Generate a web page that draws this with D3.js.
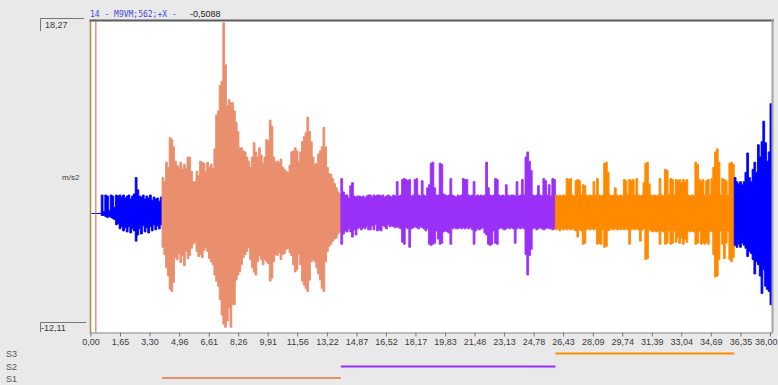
<!DOCTYPE html>
<html>
<head>
<meta charset="utf-8">
<script src="https://cdn.jsdelivr.net/npm/d3@7"></script>
<style>
  html, body { margin: 0; padding: 0; background: #e9e9e9; }
  svg { display: block; font-family: "Liberation Sans", Arial, sans-serif; }
</style>
</head>
<body>
<svg id="chart" width="778" height="385"></svg>
<script>
// ---- Channel header ------------------------------------------------------
const channelTitle = "14 - M9VM;562;+X -";
const cursorValue = "-0,5088";
const cursorTime = 0.3;          // s
const unitLabel = "m/s2";
const yMax = 18.27, yMin = -12.11;
const yMaxLabel = "18,27", yMinLabel = "-12,11";

// ---- Time axis -----------------------------------------------------------
const tEnd = 38.0;
const tickLabels = ["0,00","1,65","3,30","4,96","6,61","8,26","9,91","11,56","13,22","14,87",
  "16,52","18,17","19,83","21,48","23,13","24,78","26,43","28,09","29,74","31,39",
  "33,04","34,69","36,35","38,00"];
const tickValues = tickLabels.map(s => +s.replace(",", "."));

// ---- Waveform: peak envelope every 0.1 s (upper / lower, m/s2) -----------
const step = 0.1;

// pre-event noise, 0.0 – 3.9 s
const preStart = 0.0;
const preHi = [-0.5,-0.5,-0.5,-0.5,-0.5,-0.5, 1.3,-0.3,1.3,1.2,-0.2,1.3,1.2,0.1,1.3,
  1.2,1.3,1.1,1.3,1.0, 1.2,1.3,0.9,1.2,1.4, 3.0,1.8,1.2,1.1,1.3, 0.9,1.2,1.0,1.3,0.8,
  1.1,0.9,1.0,0.7,1.1];
const preLo = [-0.5,-0.5,-0.5,-0.5,-0.5,-0.5, -0.7,-0.7,-0.8,-0.9,-0.8,-0.9,-1.0,-1.1,-1.6,
  -1.5,-2.0,-1.8,-2.2,-1.9, -2.3,-1.8,-2.4,-2.0,-2.2, -3.2,-2.6,-2.0,-2.5,-1.7,
  -2.3,-1.9,-2.4,-1.8,-2.2, -1.6,-2.1,-1.7,-2.0,-1.6];

// S1, 4.0 – 13.9 s
const s1Start = 4.0;
const s1Hi = [3.0,2.6,4.5,4.0,6.9,6.7,6.0,4.6,4.2,4.0,
  4.5,3.8,4.3,3.9,5.0,5.0,3.6,2.6,2.6,3.6,
  3.2,4.6,4.5,4.4,3.6,4.5,4.0,4.3,3.9,5.8,
  9.1,9.5,12.0,12.4,18.1,14.0,10.0,10.6,10.3,10.3,
  9.5,8.4,7.5,5.9,5.9,5.6,5.5,5.0,4.6,4.0,
  5.0,6.4,5.5,5.0,5.9,5.2,4.4,5.0,6.7,6.6,
  8.6,8.0,5.0,4.5,4.6,4.5,4.8,4.0,3.8,3.6,
  3.5,4.2,5.5,5.6,5.9,5.6,4.6,5.5,6.5,7.0,
  7.4,8.9,7.5,6.5,5.0,4.3,4.4,5.3,5.6,6.0,
  7.9,6.0,4.0,3.4,3.3,2.9,2.4,2.0,1.6,1.4];
const s1Lo = [-3.8,-4.5,-5.8,-6.6,-7.9,-8.1,-7.2,-4.8,-5.0,-4.4,
  -5.3,-4.6,-5.6,-4.2,-4.9,-4.6,-3.9,-3.5,-3.3,-4.2,
  -4.7,-4.5,-4.8,-4.1,-3.8,-4.2,-4.9,-5.2,-5.5,-6.5,
  -7.1,-7.6,-8.9,-10.4,-11.3,-11.6,-11.0,-9.7,-11.6,-9.4,
  -9.4,-7.0,-6.5,-6.2,-5.5,-4.8,-4.5,-4.2,-3.8,-5.0,
  -5.8,-6.2,-6.5,-5.2,-4.6,-5.0,-5.5,-5.0,-5.2,-5.4,
  -7.1,-6.8,-5.2,-4.5,-4.6,-4.3,-5.0,-4.5,-4.4,-4.0,
  -3.9,-4.3,-4.6,-5.5,-6.2,-6.0,-4.5,-5.5,-7.1,-7.5,
  -7.8,-8.1,-7.0,-5.2,-5.0,-5.2,-5.8,-6.4,-7.0,-7.8,
  -8.1,-5.2,-4.2,-3.7,-3.5,-3.2,-3.0,-2.9,-2.5,-2.3];

// S2, 14.0 – 25.9 s
const s2Start = 14.0;
const s2Hi = [2.9,1.6,1.3,1.3,1.0,2.2,2.5,1.2,1.1,1.2,
  1.2,1.1,1.2,1.0,1.2,1.3,1.3,1.1,1.3,1.2,
  1.3,1.3,1.2,1.3,1.1,1.2,1.3,1.2,1.1,1.3,
  1.2,2.6,1.2,1.3,2.8,2.9,2.8,2.7,2.8,1.2,
  1.3,2.8,2.9,1.3,1.2,2.7,1.3,1.2,2.0,2.3,
  4.4,4.5,2.0,1.3,1.3,4.4,4.3,1.4,1.3,1.2,
  1.3,2.9,1.3,1.2,1.1,1.3,1.2,1.3,2.9,2.8,
  2.8,1.3,1.2,1.3,2.6,1.2,1.3,1.2,1.3,1.2,
  1.3,4.5,2.0,1.3,1.2,1.3,2.9,2.8,1.3,1.2,
  1.3,1.2,2.3,1.3,1.2,1.3,1.3,1.2,2.6,1.2,
  1.3,2.8,1.3,5.0,5.5,4.6,3.7,1.3,1.2,1.3,
  2.2,1.3,1.2,2.9,2.7,1.3,2.3,1.2,2.9,2.8];
const s2Lo = [-3.5,-2.5,-2.2,-2.3,-2.0,-2.3,-2.8,-2.1,-2.6,-2.0,
  -1.9,-2.1,-1.9,-2.0,-1.8,-2.1,-2.1,-1.7,-2.1,-1.6,
  -2.2,-2.1,-2.2,-1.7,-1.8,-2.0,-1.6,-1.8,-1.7,-1.8,
  -1.9,-1.8,-1.9,-2.0,-3.3,-3.5,-1.9,-2.0,-3.8,-2.0,
  -1.9,-1.8,-1.9,-2.0,-1.8,-1.9,-2.0,-2.2,-2.0,-3.5,
  -3.6,-3.5,-3.4,-2.2,-3.0,-3.5,-3.4,-2.3,-2.2,-2.3,
  -2.4,-3.5,-2.0,-1.9,-2.0,-2.0,-1.9,-2.0,-1.9,-2.0,
  -1.9,-2.0,-1.9,-2.1,-3.5,-2.2,-2.0,-2.1,-2.0,-1.9,
  -2.4,-2.6,-3.5,-3.6,-3.5,-2.2,-3.4,-3.5,-2.0,-1.9,
  -2.0,-2.1,-2.0,-1.9,-2.0,-1.9,-2.0,-3.4,-2.0,-1.9,
  -2.0,-1.9,-2.0,-4.5,-6.5,-4.6,-4.0,-2.0,-1.9,-2.1,
  -2.0,-1.9,-2.0,-2.1,-2.0,-1.9,-2.0,-2.0,-2.1,-2.0];

// S3, 26.0 – 35.9 s
const s3Start = 26.0;
const s3Hi = [1.3,1.2,1.3,1.2,1.3,1.2,2.9,2.8,2.9,1.3,
  1.2,2.7,2.8,2.7,1.3,2.3,2.2,1.3,1.2,1.3,
  1.2,2.6,1.3,2.9,1.3,1.2,1.3,4.4,4.5,3.5,
  1.3,1.2,1.3,2.0,1.3,1.2,1.3,1.2,2.8,2.7,
  1.3,2.8,2.7,2.8,1.3,2.9,1.3,1.2,1.3,2.5,
  4.4,4.5,2.4,1.3,1.2,1.3,1.2,1.3,2.9,1.3,
  1.2,3.8,3.7,1.3,2.9,2.8,1.3,2.8,2.7,2.8,
  2.5,2.8,2.6,2.8,1.3,1.2,1.3,1.2,4.5,4.3,
  2.8,2.6,2.8,1.3,2.7,2.8,1.3,2.9,4.0,5.5,
  5.8,4.5,1.3,2.9,2.8,2.7,1.3,4.4,4.5,4.3];
const s3Lo = [-2.1,-2.0,-2.2,-2.0,-2.1,-2.0,-2.1,-2.0,-2.1,-2.0,
  -2.1,-2.2,-2.8,-2.1,-2.2,-3.5,-3.4,-2.1,-2.0,-2.1,
  -2.0,-2.1,-2.0,-3.5,-3.4,-3.5,-2.1,-3.8,-3.7,-2.2,
  -2.1,-2.0,-2.1,-2.0,-2.1,-2.0,-2.1,-2.0,-2.1,-2.0,
  -2.1,-3.5,-2.1,-2.0,-2.1,-2.0,-2.1,-3.2,-2.1,-2.0,
  -5.0,-4.9,-2.1,-2.2,-2.3,-2.2,-2.3,-2.2,-3.5,-2.2,
  -2.3,-3.5,-3.4,-2.2,-3.5,-3.4,-2.2,-3.3,-2.8,-3.4,
  -2.9,-3.5,-3.0,-3.3,-2.2,-2.3,-2.2,-2.3,-3.5,-3.4,
  -2.2,-3.5,-3.4,-3.5,-3.3,-3.5,-2.2,-2.3,-4.5,-6.7,
  -6.6,-5.0,-2.2,-3.5,-4.9,-3.4,-2.2,-5.0,-5.2,-4.8];

// post-event, 36.0 – 38.0 s
const postStart = 36.0;
const postHi = [3.0,2.6,2.4,2.6,2.3,2.6,3.5,5.4,3.0,2.6,3.8,4.5,3.5,6.2,5.0,6.5,8.5,6.4,4.6,5.5,10.2];
const postLo = [-3.6,-3.8,-3.5,-3.8,-3.4,-3.6,-3.9,-4.7,-4.2,-4.4,-5.0,-6.4,-5.2,-5.5,-6.6,-8.3,-6.0,-7.6,-7.9,-8.1,-9.4];

// ---- Selection windows ---------------------------------------------------
const selNames = ["S3", "S2", "S1"];
const selStart = [26.0, 14.0, 4.0];
const selEnd   = [36.0, 26.0, 14.0];

// ---- Colours -------------------------------------------------------------
const colBlue = "#0000ff", colS1 = "#e98f6e", colS2 = "#9a30f8", colS3 = "#ff8a00";
const selColors = [colS3, colS2, colS1];

// ==========================================================================
const svg = d3.select("#chart");
const L = 90.5, R = 772, T = 21, B = 332.5;

const x = d3.scaleLinear().domain([0, tEnd]).range([L, 770]);
const y = d3.scaleLinear().domain([yMin, yMax]).range([B, T]);

svg.append("rect").attr("width", 778).attr("height", 385).attr("fill", "#e9e9e9");
svg.append("rect").attr("x", L).attr("y", T).attr("width", R - L).attr("height", B - T).attr("fill", "#ffffff");

svg.append("defs").append("clipPath").attr("id", "plotClip")
  .append("rect").attr("x", L + 1).attr("y", T).attr("width", R - L - 1).attr("height", B - T);

// each envelope sample covers one step-wide column between its lower and upper peak
function columns(start, hi, lo) {
  const pts = hi.map((h, i) => ({ t: start + i * step, hi: h, lo: lo[i] }));
  const last = pts[pts.length - 1];
  pts.push({ t: last.t + step, hi: last.hi, lo: last.lo });
  return pts;
}
const area = d3.area()
  .x(d => x(d.t))
  .y0(d => y(d.lo))
  .y1(d => y(d.hi))
  .curve(d3.curveStepAfter);

const wave = svg.append("g").attr("clip-path", "url(#plotClip)");
[
  [preStart, preHi, preLo, colBlue],
  [s1Start, s1Hi, s1Lo, colS1],
  [s2Start, s2Hi, s2Lo, colS2],
  [s3Start, s3Hi, s3Lo, colS3],
  [postStart, postHi, postLo, colBlue]
].forEach(([start, hi, lo, c]) => {
  wave.append("path")
    .attr("d", area(columns(start, hi, lo)))
    .attr("fill", c)
    .attr("stroke", c)
    .attr("stroke-width", 0.9)
    .attr("stroke-linejoin", "miter");
});

// cursor
svg.append("line")
  .attr("x1", x(cursorTime)).attr("x2", x(cursorTime))
  .attr("y1", T).attr("y2", B)
  .attr("stroke", "#e05a4a").attr("stroke-width", 1);

// y axis line
svg.append("line").attr("x1", L).attr("x2", L).attr("y1", T).attr("y2", B + 1)
  .attr("stroke", "#a8923c").attr("stroke-width", 1.5);

// frame: top and right
svg.append("line").attr("x1", L - 1).attr("x2", R + 2).attr("y1", T - 0.5).attr("y2", T - 0.5)
  .attr("stroke", "#5c5c5c").attr("stroke-width", 2);
svg.append("line").attr("x1", R + 0.5).attr("x2", R + 0.5).attr("y1", T - 1).attr("y2", B)
  .attr("stroke", "#a6a6a6").attr("stroke-width", 2);

// time axis
const xAxis = d3.axisBottom(x)
  .tickValues(tickValues)
  .tickFormat((d, i) => tickLabels[i])
  .tickSize(4)
  .tickSizeOuter(0)
  .tickPadding(2);
const gx = svg.append("g").attr("transform", `translate(0,${B})`).call(xAxis);
gx.select(".domain").attr("stroke", "#8c8c8c").attr("d", `M${L},0.5H${R + 1}`);
gx.selectAll(".tick line").attr("stroke", "#777");
gx.selectAll(".tick text")
  .attr("fill", "#3a3a3a")
  .style("font-family", "'Liberation Sans', Arial, sans-serif")
  .style("font-size", "9px");
// last label sits against the right edge of the window
gx.selectAll(".tick text").filter((d, i) => i === tickLabels.length - 1)
  .attr("text-anchor", "end")
  .attr("x", 777 - x(tEnd));

// y range labels with brackets
svg.append("path").attr("d", "M40.5,31V18.5H84").attr("fill", "none").attr("stroke", "#777").attr("stroke-width", 1);
svg.append("text").attr("x", 45).attr("y", 28).text(yMaxLabel)
  .attr("font-size", 9).attr("fill", "#3a3a3a");
svg.append("path").attr("d", "M40.5,332V322.5H86").attr("fill", "none").attr("stroke", "#777").attr("stroke-width", 1);
svg.append("text").attr("x", 41).attr("y", 331).text(yMinLabel)
  .attr("font-size", 9).attr("fill", "#3a3a3a");
svg.append("text").attr("x", 62).attr("y", 180).text(unitLabel)
  .attr("font-size", 8).attr("fill", "#3a3a3a");

// header
svg.append("text").attr("x", 90).attr("y", 16.5).text(channelTitle)
  .style("font-family", "'DejaVu Sans Mono', monospace").attr("font-size", 8).attr("fill", "#4646e0");
svg.append("text").attr("x", 190).attr("y", 16.5).text(cursorValue)
  .attr("font-size", 9).attr("fill", "#222");

// selection rows
const rowY = [353.5, 366.5, 378];
const rowTextY = [357, 370, 382];
selNames.forEach((name, i) => {
  svg.append("text").attr("x", 6).attr("y", rowTextY[i]).text(name)
    .attr("font-size", 9).attr("fill", "#555");
  svg.append("line")
    .attr("x1", x(selStart[i])).attr("x2", x(selEnd[i]))
    .attr("y1", rowY[i]).attr("y2", rowY[i])
    .attr("stroke", selColors[i]).attr("stroke-width", 2);
});
</script>
</body>
</html>
